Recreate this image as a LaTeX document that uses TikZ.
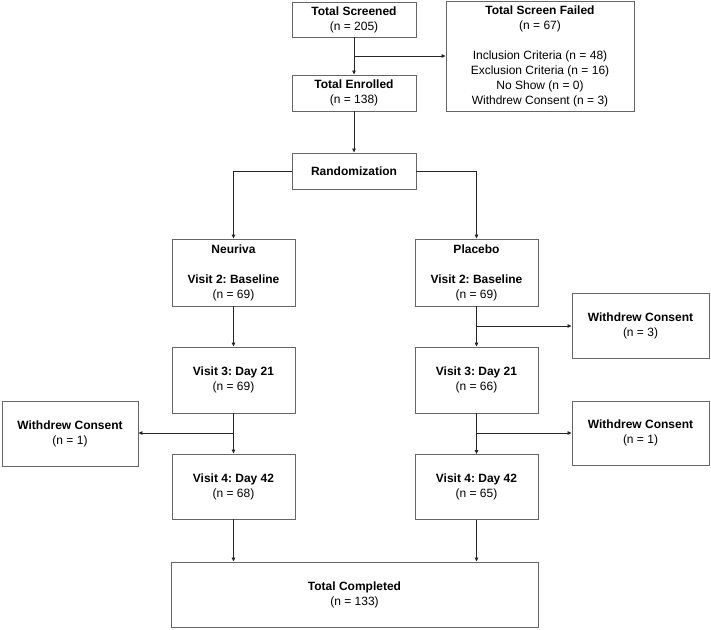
\documentclass[tikz,border=0pt]{standalone}
\usepackage{fontspec}
\setmainfont{Liberation Sans}
\frenchspacing
\usetikzlibrary{arrows.meta}
\begin{document}
\begin{tikzpicture}[x=1pt,y=-1pt,
  box/.style={draw=black!60,line width=0.9pt,fill=white,align=center,inner sep=0pt,font=\fontsize{12}{15}\selectfont},
  conn/.style={draw=black!85,line width=0.8pt},
  arr/.style={conn,-{Triangle[length=4pt,width=3.5pt]}}]
\useasboundingbox[fill=white] (0,0) rectangle (711,629);
\node[box,minimum width=124pt,minimum height=35pt] (ts) at (354,19.5) {\textbf{Total Screened}\\(n = 205)};
\node[box,minimum width=188pt,minimum height=110pt,anchor=north] (tsf) at (540,1) {\textbf{Total Screen Failed}\\(n = 67)\\[15pt]Inclusion Criteria (n = 48)\\Exclusion Criteria (n = 16)\\No Show (n = 0)\\Withdrew Consent (n = 3)};
\node[box,minimum width=124pt,minimum height=36pt] (te) at (354,93) {\textbf{Total Enrolled}\\(n = 138)};
\node[box,minimum width=124pt,minimum height=36pt] (rand) at (354,171) {\textbf{Randomization}};
\node[box,minimum width=123pt,minimum height=67pt] (neu) at (233.5,272.5) {\textbf{Neuriva}\\[15pt]\textbf{Visit 2: Baseline}\\(n = 69)};
\node[box,minimum width=123pt,minimum height=67pt] (pla) at (476.5,272.5) {\textbf{Placebo}\\[15pt]\textbf{Visit 2: Baseline}\\(n = 69)};
\node[box,minimum width=123pt,minimum height=66pt] (n3) at (233.5,380) {\textbf{Visit 3: Day 21}\\(n = 69)};
\node[box,minimum width=123pt,minimum height=66pt] (p3) at (476.5,380) {\textbf{Visit 3: Day 21}\\(n = 66)};
\node[box,minimum width=123pt,minimum height=65pt] (n4) at (233.5,486.5) {\textbf{Visit 4: Day 42}\\(n = 68)};
\node[box,minimum width=123pt,minimum height=65pt] (p4) at (476.5,487) {\textbf{Visit 4: Day 42}\\(n = 65)};
\node[box,minimum width=136pt,minimum height=65pt] (wl) at (70,433.5) {\textbf{Withdrew Consent}\\(n = 1)};
\node[box,minimum width=137pt,minimum height=65pt] (wr1) at (640.5,325.5) {\textbf{Withdrew Consent}\\(n = 3)};
\node[box,minimum width=137pt,minimum height=64pt] (wr2) at (640.5,433) {\textbf{Withdrew Consent}\\(n = 1)};
\node[box,minimum width=367pt,minimum height=65pt] (tc) at (354.5,594.5) {\textbf{Total Completed}\\(n = 133)};
% connectors
\coordinate (j1) at (354,56);
\coordinate (j2) at (476.5,326);
\coordinate (j3) at (233.5,433);
\coordinate (j4) at (476.5,433);
\draw[arr] (ts) -- (te);
\draw[arr] (j1) -- (tsf.west |- j1);
\draw[arr] (te) -- (rand);
\draw[arr] (rand.west) -| (neu.north);
\draw[arr] (rand.east) -| (pla.north);
\draw[arr] (neu) -- (n3);
\draw[arr] (pla) -- (p3);
\draw[arr] (j2) -- (wr1.west |- j2);
\draw[arr] (n3) -- (n4);
\draw[arr] (p3) -- (p4);
\draw[arr] (j3) -- (wl.east |- j3);
\draw[arr] (j4) -- (wr2.west |- j4);
\draw[arr] (n4.south) -- (n4.south |- tc.north);
\draw[arr] (p4.south) -- (p4.south |- tc.north);
\end{tikzpicture}
\end{document}
